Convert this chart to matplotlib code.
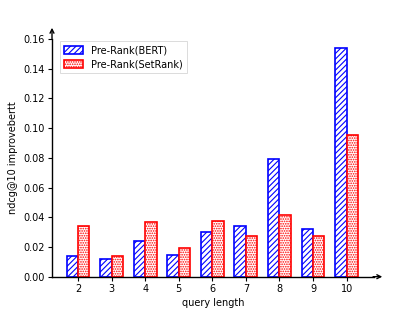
import numpy as np
import matplotlib
matplotlib.use("Agg")
import matplotlib.pyplot as plt

# query length categories
lengths = [2, 3, 4, 5, 6, 7, 8, 9, 10]
# ndcg@10 improvement over bert
bert = [0.0139, 0.0121, 0.0242, 0.0148, 0.0303, 0.0341, 0.0793, 0.0323, 0.1538]
setrank = [0.0339, 0.0141, 0.0366, 0.0195, 0.0375, 0.0274, 0.0413, 0.0274, 0.0956]
yticks = [0.00, 0.02, 0.04, 0.06, 0.08, 0.10, 0.12, 0.14, 0.16]

plt.rcParams['font.family'] = 'DejaVu Sans'
plt.rcParams['font.size'] = 7
plt.rcParams['hatch.linewidth'] = 0.8

fig = plt.figure(figsize=(4.15, 3.11), dpi=100)
ax = fig.add_axes([52/415, 1-276.7/311, 321.5/415, 237.7/311])

x = np.array(lengths)
w = 0.34
ax.bar(x - w/2, bert, w, color="white", edgecolor="blue", hatch="//////",
       linewidth=1.2, label="Pre-Rank(BERT)")
ax.bar(x + w/2, setrank, w, color="white", edgecolor="red", hatch=".......",
       linewidth=1.2, label="Pre-Rank(SetRank)")

ax.set_xlim(1.226, 10.8)
ax.set_ylim(0, 0.16)
ax.set_xticks(lengths)
ax.set_yticks(yticks)
ax.set_yticklabels(["%.2f" % v for v in yticks])
ax.set_xlabel("query length", labelpad=3)
ax.set_ylabel("ndcg@10 improvebertt", labelpad=4)

for s in ["top", "right"]:
    ax.spines[s].set_visible(False)
ax.spines["left"].set_linewidth(1.0)
ax.spines["bottom"].set_linewidth(1.0)
ax.tick_params(direction="out", length=3, width=0.8, pad=2)

# arrows at the ends of the axes
ax.annotate("", xy=(1.036, 0), xytext=(0.99, 0), xycoords="axes fraction",
            arrowprops=dict(arrowstyle="->", lw=1.0, color="black"), annotation_clip=False)
ax.annotate("", xy=(0, 1.059), xytext=(0, 0.99), xycoords="axes fraction",
            arrowprops=dict(arrowstyle="->", lw=1.0, color="black"), annotation_clip=False)

leg = ax.legend(loc="upper left", bbox_to_anchor=(0.01, 1.01), fontsize=7,
                handlelength=2.0, handleheight=0.9, borderpad=0.4,
                labelspacing=0.4, fancybox=False)
leg.get_frame().set_edgecolor("#cccccc")
leg.get_frame().set_linewidth(0.6)

plt.savefig("out.png", dpi=100)
